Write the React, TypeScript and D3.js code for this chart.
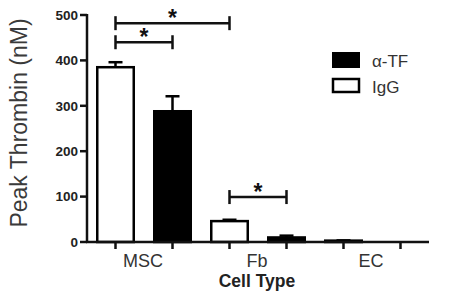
import React from "react";
import * as d3 from "d3";

const groups = ["MSC", "Fb", "EC"];
const series = ["IgG", "α-TF"];
const means = [
  [385, 288],
  [46, 10],
  [3, 0],
];
const errs = [
  [11, 33],
  [3, 4],
  [0.5, 0],
];
const yTicks = [0, 100, 200, 300, 400, 500];
const brackets = [
  { from: [0, 0], to: [1, 0], y: 482 },
  { from: [0, 0], to: [0, 1], y: 440 },
  { from: [1, 0], to: [1, 1], y: 99 },
];

export default function App() {
  const W = 451, H = 294;
  const x0 = 87, x1 = 429;
  const y = d3.scaleLinear().domain([0, 500]).range([242, 15]);
  const bars = groups.flatMap((g, gi) => series.map((s, si) => ({ g, gi, s, si, key: `${g}-${s}` })));
  const xp = d3.scalePoint<string>().domain(bars.map((b) => b.key)).range([115.5, 400.5]);
  const bw = 39;
  const cx = (gi: number, si: number) => xp(`${groups[gi]}-${series[si]}`) as number;
  const font = "Arial, 'Liberation Sans', Helvetica, sans-serif";
  return (
    <svg width={W} height={H} style={{ position: "absolute", left: 0, top: 0 }} fontFamily={font}>
      <rect width={W} height={H} fill="#fff" />
      {/* bars */}
      {bars.map((b) => {
        const v = means[b.gi][b.si];
        const e = errs[b.gi][b.si];
        const c = cx(b.gi, b.si);
        const top = y(v);
        return (
          <g key={b.key}>
            {e > 0 && (
              <g stroke="#000" strokeWidth={2.5}>
                <line x1={c} x2={c} y1={top} y2={y(v + e)} />
                <line x1={c - 7} x2={c + 7} y1={y(v + e)} y2={y(v + e)} />
              </g>
            )}
            {v > 0 && (
              <rect
                x={c - bw / 2 + 1.25}
                y={top}
                width={bw - 2.5}
                height={y(0) - top}
                fill={b.si === 1 ? "#000" : "#fff"}
                stroke="#000"
                strokeWidth={2.5}
              />
            )}
          </g>
        );
      })}
      {/* y axis */}
      <line x1={x0} x2={x0} y1={y(500) - 1} y2={y(0) + 1} stroke="#111" strokeWidth={2.5} />
      {yTicks.map((t) => (
        <g key={t}>
          <line x1={x0 - 7} x2={x0} y1={y(t)} y2={y(t)} stroke="#111" strokeWidth={2.5} />
          <text x={x0 - 9} y={y(t)} dy="0.36em" textAnchor="end" fontSize={13.5} fontWeight="bold" fill="#222">
            {t}
          </text>
        </g>
      ))}
      {/* x axis */}
      <line x1={x0 - 1} x2={x1} y1={y(0)} y2={y(0)} stroke="#111" strokeWidth={2.5} />
      {bars.map((b) => (
        <line key={b.key} x1={cx(b.gi, b.si)} x2={cx(b.gi, b.si)} y1={y(0)} y2={y(0) + 7} stroke="#111" strokeWidth={2.5} />
      ))}
      {groups.map((g, gi) => (
        <text key={g} x={(cx(gi, 0) + cx(gi, 1)) / 2 - 1} y={267} textAnchor="middle" fontSize={18} fill="#333">
          {g}
        </text>
      ))}
      <text x={257} y={287} textAnchor="middle" fontSize={17.5} fontWeight="bold" fill="#222">
        Cell Type
      </text>
      <text transform={`translate(27,${123}) rotate(-90)`} textAnchor="middle" fontSize={23} fill="#3a3a3a">
        Peak Thrombin (nM)
      </text>
      {/* significance brackets */}
      {brackets.map((br, i) => {
        const xa = cx(br.from[0], br.from[1]);
        const xc = cx(br.to[0], br.to[1]);
        const yy = y(br.y);
        return (
          <g key={i} stroke="#111" strokeWidth={2.5}>
            <line x1={xa} x2={xc} y1={yy} y2={yy} />
            <line x1={xa} x2={xa} y1={yy - 7} y2={yy + 7} />
            <line x1={xc} x2={xc} y1={yy - 7} y2={yy + 7} />
            <text x={(xa + xc) / 2} y={yy + 3} textAnchor="middle" fontSize={23} fontWeight="bold" stroke="none" fill="#111">
              *
            </text>
          </g>
        );
      })}
      {/* legend */}
      <rect x={333} y={53} width={26} height={14} fill="#000" stroke="#000" strokeWidth={2} />
      <rect x={333} y={79} width={26} height={13} fill="#fff" stroke="#000" strokeWidth={2.5} />
      <text x={372} y={67} fontSize={17} fill="#333">α-TF</text>
      <text x={372} y={93} fontSize={17} fill="#333">IgG</text>
    </svg>
  );
}
